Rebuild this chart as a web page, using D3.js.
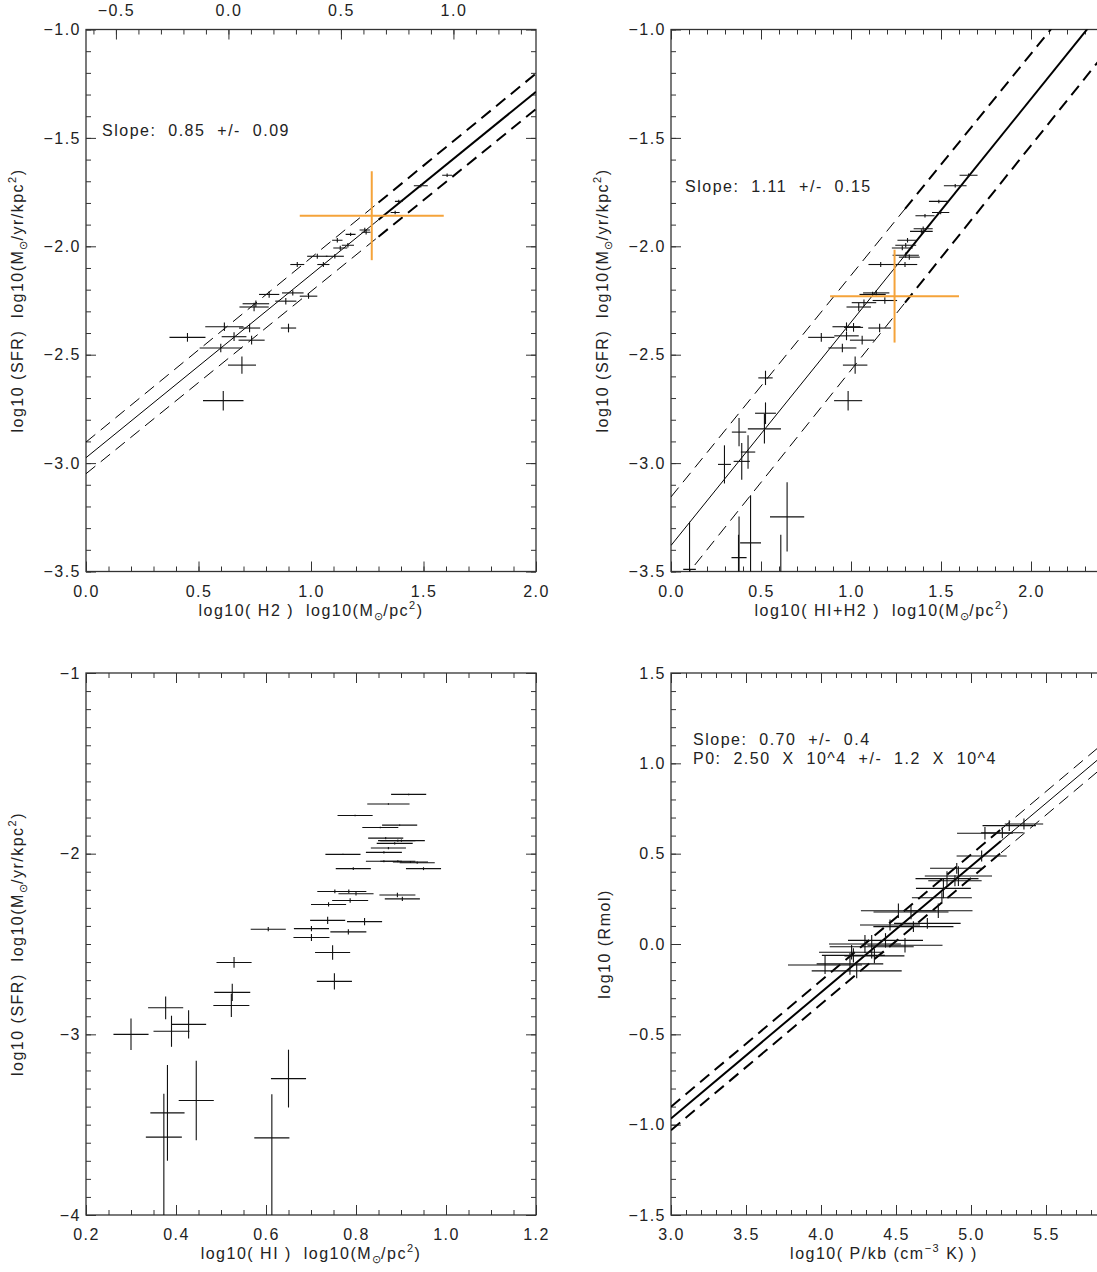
<!DOCTYPE html>
<html lang="en">
<head>
<meta charset="UTF-8">
<title>SFR vs gas</title>
<script src="https://cdn.jsdelivr.net/npm/d3@7"></script>
<style>
    body { margin: 0; background: #fff; }
    svg text { font-family: "Liberation Sans", Arial, sans-serif; font-size: 16px; letter-spacing: 1.5px; fill: #222; white-space: pre; }
    .tick text { font-size: 16px; }
</style>
</head>
<body>
<svg width="1097" height="1272"></svg>
<script>
    // ---- panel 1: log H2 vs log SFR
    var h2X  = [1.605,1.488,1.39,1.374,1.239,1.245,1.176,1.117,1.164,1.13,1.106,1.028,1.055,0.939,0.814,0.919,0.989,0.888,0.755,0.747,0.615,0.727,0.9,0.451,0.658,0.736,0.599,0.693,0.61];
    var h2Y  = [-1.672,-1.721,-1.793,-1.844,-1.925,-1.935,-1.945,-1.972,-1.995,-2.008,-2.046,-2.046,-2.084,-2.084,-2.222,-2.215,-2.23,-2.253,-2.265,-2.28,-2.371,-2.377,-2.377,-2.42,-2.417,-2.433,-2.469,-2.548,-2.712];
    var h2Ex = [0.022,0.031,0.017,0.02,0.023,0.02,0.022,0.023,0.027,0.031,0.04,0.045,0.027,0.031,0.045,0.048,0.039,0.047,0.059,0.065,0.085,0.047,0.034,0.08,0.055,0.058,0.094,0.062,0.09];
    var h2Ey = [0.008,0.008,0.008,0.008,0.01,0.01,0.008,0.01,0.01,0.01,0.01,0.012,0.012,0.012,0.015,0.012,0.012,0.015,0.015,0.02,0.02,0.02,0.02,0.02,0.02,0.02,0.02,0.04,0.045];
    var h2Ref = [1.27, -1.859, 0.32, 0.205];          // x, y, xerr, yerr (orange)
    var h2Fit = [0.844, -2.975], h2FitUp = [0.85, -2.903], h2FitDn = [0.841, -3.049];  // slope, intercept

    // ---- panel 2: log (HI+H2) vs log SFR
    var totX  = [1.653,1.579,1.488,1.498,1.411,1.401,1.391,1.314,1.304,1.285,1.304,1.324,1.165,1.3,1.14,1.12,1.072,1.188,1.043,0.975,1.014,1.159,0.835,0.975,1.062,0.952,1.023,0.984,0.525,0.525,0.519,0.378,0.428,0.393,0.297,0.645,0.442,0.378,0.103,0.61,0.375];
    var totY  = [-1.672,-1.721,-1.793,-1.844,-1.859,-1.919,-1.931,-1.972,-1.995,-2.008,-2.041,-2.05,-2.084,-2.084,-2.215,-2.222,-2.26,-2.25,-2.28,-2.371,-2.374,-2.377,-2.42,-2.413,-2.433,-2.469,-2.548,-2.712,-2.607,-2.77,-2.842,-2.857,-2.949,-2.992,-3.006,-3.248,-3.368,-3.436,-3.49,-3.57,-3.57];
    var totEx = [0.05,0.063,0.055,0.048,0.053,0.053,0.063,0.056,0.058,0.058,0.073,0.058,0.068,0.068,0.073,0.073,0.068,0.068,0.068,0.078,0.053,0.063,0.073,0.068,0.068,0.078,0.068,0.078,0.04,0.058,0.092,0.04,0.04,0.045,0.036,0.095,0.058,0.042,0.035,0.05,0.05];
    var totEyLo = [0.008,0.008,0.008,0.008,0.008,0.01,0.01,0.01,0.01,0.01,0.012,0.012,0.012,0.012,0.012,0.012,0.015,0.015,0.02,0.02,0.02,0.02,0.02,0.02,0.02,0.02,0.04,0.045,0.033,0.05,0.068,0.065,0.077,0.085,0.088,0.16,0.3,0.3,0.3,0.6,0.6];
    var totEyHi = [0.008,0.008,0.008,0.008,0.008,0.01,0.01,0.01,0.01,0.01,0.012,0.012,0.012,0.012,0.012,0.012,0.015,0.015,0.02,0.02,0.02,0.02,0.02,0.02,0.02,0.02,0.04,0.045,0.033,0.05,0.068,0.065,0.077,0.085,0.088,0.16,0.22,0.19,0.22,0.24,0.24];
    var totRef = [1.242, -2.23, 0.358, 0.214];
    var totFit = [1.03, -3.38], totFitUp = [1.022, -3.156], totFitDn = [1.036, -3.607];

    // ---- panel 3: log HI vs log SFR
    var hiX  = [0.917,0.872,0.798,0.897,0.854,0.866,0.893,0.901,0.886,0.872,0.862,0.771,0.862,0.893,0.921,0.936,0.794,0.95,0.753,0.784,0.8,0.892,0.903,0.787,0.739,0.737,0.819,0.605,0.701,0.783,0.701,0.748,0.529,0.752,0.525,0.523,0.377,0.428,0.39,0.3,0.65,0.445,0.381,0.373,0.613];
    var hiY  = [-1.672,-1.725,-1.789,-1.842,-1.855,-1.914,-1.928,-1.928,-1.943,-1.969,-1.993,-2.004,-2.042,-2.042,-2.046,-2.05,-2.083,-2.083,-2.209,-2.209,-2.222,-2.229,-2.25,-2.259,-2.281,-2.369,-2.376,-2.418,-2.415,-2.433,-2.464,-2.547,-2.602,-2.707,-2.768,-2.84,-2.853,-2.945,-2.983,-3.0,-3.245,-3.366,-3.435,-3.569,-3.573];
    var hiEx = [0.039,0.047,0.039,0.039,0.04,0.039,0.039,0.052,0.04,0.039,0.04,0.039,0.04,0.039,0.039,0.039,0.039,0.039,0.039,0.039,0.039,0.04,0.039,0.04,0.039,0.039,0.039,0.039,0.039,0.04,0.04,0.039,0.039,0.039,0.04,0.04,0.039,0.039,0.04,0.039,0.039,0.039,0.038,0.04,0.039];
    var hiEyLo = [0.004,0.004,0.004,0.004,0.004,0.006,0.006,0.006,0.006,0.006,0.006,0.004,0.006,0.006,0.006,0.006,0.008,0.008,0.01,0.01,0.01,0.012,0.012,0.012,0.012,0.02,0.02,0.012,0.015,0.015,0.02,0.04,0.03,0.045,0.048,0.064,0.063,0.078,0.086,0.087,0.16,0.22,0.265,0.6,0.6];
    var hiEyHi = [0.004,0.004,0.004,0.004,0.004,0.006,0.006,0.006,0.006,0.006,0.006,0.004,0.006,0.006,0.006,0.006,0.008,0.008,0.01,0.01,0.01,0.012,0.012,0.012,0.012,0.02,0.02,0.012,0.015,0.015,0.02,0.04,0.03,0.045,0.048,0.064,0.063,0.078,0.086,0.087,0.16,0.22,0.265,0.24,0.242];

    // ---- panel 4: log P/k vs log Rmol
    var pX  = [5.353,5.255,5.093,5.209,5.071,4.916,4.905,4.893,4.816,4.806,4.516,4.709,4.616,4.782,4.46,4.56,4.338,4.293,4.204,4.027,4.193,4.238,4.216,4.356,4.6,4.84,4.43];
    var pY  = [0.664,0.655,0.613,0.616,0.487,0.376,0.419,0.35,0.308,0.256,0.184,0.114,0.096,0.184,0.105,-0.007,-0.015,0.0,-0.046,-0.116,-0.11,-0.149,-0.063,-0.066,0.177,0.362,0.02];
    var pEx = [0.128,0.178,0.186,0.142,0.167,0.224,0.178,0.178,0.183,0.2,0.25,0.222,0.267,0.228,0.2,0.25,0.28,0.24,0.217,0.247,0.222,0.3,0.21,0.2,0.25,0.21,0.25];
    var pEy = [0.03,0.03,0.034,0.03,0.03,0.055,0.03,0.03,0.055,0.03,0.04,0.03,0.03,0.04,0.03,0.04,0.065,0.05,0.04,0.05,0.06,0.04,0.04,0.04,0.04,0.04,0.04];
    var pFit = [0.698, -3.06], pFitUp = [0.698, -2.995], pFitDn = [0.698, -3.125];

    var W = 450, H = 542;
    var colX = [86, 671], rowY = [29.5, 673];
    var svg = d3.select("svg");

    function steps(a, b, s) {
        return d3.range(Math.ceil(a / s - 1e-6), Math.floor(b / s + 1e-6) + 1).map(function (i) { return +(i * s).toFixed(4); });
    }
    function pts(xs, ys, ex, lo, hi) {
        return xs.map(function (v, i) { return {x: v, y: ys[i], xe: ex[i], lo: lo[i], hi: hi[i]}; });
    }
    var noLabel = function () { return ""; };

    // one side of the frame: minor + major ticks (IDL style, pointing inward)
    function side(g, axis, tr, majors, minors, fmt, pad) {
        var a = g.append("g").attr("transform", tr).attr("color", "#333")
            .call(axis.tickValues(minors).tickSize(-5).tickFormat(noLabel));
        a.select(".domain").remove();
        var b = g.append("g").attr("transform", tr).attr("color", "#333")
            .call(axis.tickValues(majors).tickSize(-10).tickPadding(pad).tickFormat(fmt || noLabel));
        b.select(".domain").remove();
        b.attr("font-size", null).attr("font-family", null);
    }

    function panel(c, r, xd, yd, o) {
        var g = svg.append("g").attr("transform", "translate(" + colX[c] + "," + rowY[r] + ")");
        var x = d3.scaleLinear().domain(xd).range([0, W]);
        var y = d3.scaleLinear().domain(yd).range([H, 0]);
        var id = "clip" + c + r;
        g.append("clipPath").attr("id", id).append("rect").attr("width", W).attr("height", H);

        var xMaj = steps(xd[0], xd[1], o.xStep), xMin = steps(xd[0], xd[1], o.xMinor);
        var yMaj = steps(yd[0], yd[1], o.yStep), yMin = steps(yd[0], yd[1], o.yMinor);
        var xf = d3.format(o.xFmt), lastLab = o.xLabelMax || xd[1];
        side(g, d3.axisBottom(x), "translate(0," + H + ")", xMaj, xMin,
            function (v) { return v > lastLab ? "" : xf(v); }, 14);
        side(g, d3.axisLeft(y), null, yMaj, yMin, d3.format(o.yFmt), 5);
        side(g, d3.axisRight(y), "translate(" + W + ",0)", yMaj, yMin, null, 0);
        if (o.top) {
            var t = d3.scaleLinear().domain(o.top).range([0, W]);
            side(g, d3.axisTop(t), null, steps(o.top[0], o.top[1], 0.5), steps(o.top[0], o.top[1], 0.1), d3.format(".1f"), 14);
        } else {
            side(g, d3.axisTop(x), null, xMaj, xMin, null, 0);
        }
        g.append("rect").attr("width", W).attr("height", H)
            .attr("fill", "none").attr("stroke", "#333").attr("stroke-width", 1.3);

        var plot = g.append("g").attr("clip-path", "url(#" + id + ")");

        // fit lines: thin outside o.thick, thicker inside it
        (o.fits || []).forEach(function (f, k) {
            var dash = k === 0 ? null : "12,7";
            var segs = [[xd[0], o.thick[0], 1], [o.thick[0], o.thick[1], 2], [o.thick[1], xd[1], 1]];
            segs.forEach(function (s) {
                if (s[1] <= s[0]) return;
                plot.append("line")
                    .attr("x1", x(s[0])).attr("y1", y(f[1] + f[0] * s[0]))
                    .attr("x2", x(s[1])).attr("y2", y(f[1] + f[0] * s[1]))
                    .attr("stroke", "#000").attr("stroke-width", s[2])
                    .attr("stroke-dasharray", dash);
            });
        });

        function bars(data, color, sw) {
            var e = plot.append("g").selectAll("g").data(data).enter().append("g")
                .attr("stroke", color).attr("stroke-width", sw);
            e.append("line")
                .attr("x1", function (d) { return x(d.x - d.xe); }).attr("x2", function (d) { return x(d.x + d.xe); })
                .attr("y1", function (d) { return y(d.y); }).attr("y2", function (d) { return y(d.y); });
            e.append("line")
                .attr("x1", function (d) { return x(d.x); }).attr("x2", function (d) { return x(d.x); })
                .attr("y1", function (d) { return y(d.y - d.lo); }).attr("y2", function (d) { return y(d.y + d.hi); });
        }
        bars(o.data, "#111", 1.1);
        if (o.ref) bars([{x: o.ref[0], y: o.ref[1], xe: o.ref[2], lo: o.ref[3], hi: o.ref[3]}], "#f5a33a", 2);

        // titles
        g.append("text").attr("x", o.xtx).attr("y", H + 44).attr("text-anchor", "middle").html(o.xTitle);
        g.append("text").attr("transform", "translate(" + o.ytx + "," + (H / 2) + ") rotate(-90)")
            .attr("text-anchor", "middle").html(o.yTitle);
        (o.notes || []).forEach(function (n, k) {
            g.append("text").attr("x", o.noteX).attr("y", o.noteY + k * 19).text(n);
        });
        return g;
    }

    var sun = '<tspan dy="4" font-size="11" letter-spacing="0">⊙</tspan><tspan dy="-4">';
    var sfrTitle = 'log10 (SFR)  log10(M' + sun + '/yr/kpc</tspan><tspan dy="-7" font-size="11">2</tspan><tspan dy="7">)</tspan>';
    var surf = 'log10(M' + sun + '/pc</tspan><tspan dy="-7" font-size="11">2</tspan><tspan dy="7">)</tspan>';

    panel(0, 0, [0, 2], [-3.5, -1], {
        xStep: 0.5, xMinor: 0.1, yStep: 0.5, yMinor: 0.1, xFmt: ".1f", yFmt: ".1f",
        top: [-0.633, 1.367],
        data: pts(h2X, h2Y, h2Ex, h2Ey, h2Ey), ref: h2Ref,
        fits: [h2Fit, h2FitUp, h2FitDn], thick: [1.3, 2],
        xTitle: 'log10( H2 )  ' + surf, xtx: W / 2, ytx: -63, yTitle: sfrTitle,
        notes: ["Slope:  0.85  +/-  0.09"], noteX: 16, noteY: 106
    });
    panel(1, 0, [0, 2.5], [-3.5, -1], {
        xStep: 0.5, xMinor: 0.1, yStep: 0.5, yMinor: 0.1, xFmt: ".1f", yFmt: ".1f", xLabelMax: 2.3,
        data: pts(totX, totY, totEx, totEyLo, totEyHi), ref: totRef,
        fits: [totFit, totFitUp, totFitDn], thick: [1.3, 2.5],
        xTitle: 'log10( HI+H2 )  ' + surf, xtx: 211, ytx: -63, yTitle: sfrTitle,
        notes: ["Slope:  1.11  +/-  0.15"], noteX: 14, noteY: 162
    });
    panel(0, 1, [0.2, 1.2], [-4, -1], {
        xStep: 0.2, xMinor: 0.05, yStep: 1, yMinor: 0.1, xFmt: ".1f", yFmt: "d",
        data: pts(hiX, hiY, hiEx, hiEyLo, hiEyHi),
        xTitle: 'log10( HI )  ' + surf, xtx: W / 2, ytx: -63, yTitle: sfrTitle
    });
    panel(1, 1, [3, 6], [-1.5, 1.5], {
        xStep: 0.5, xMinor: 0.1, yStep: 0.5, yMinor: 0.1, xFmt: ".1f", yFmt: ".1f", xLabelMax: 5.8,
        data: pts(pX, pY, pEx, pEy, pEy),
        fits: [pFit, pFitUp, pFitDn], thick: [3, 5.2],
        xTitle: 'log10( P/kb (cm<tspan dy="-7" font-size="11">−3</tspan><tspan dy="7"> K) )</tspan>', xtx: 213, ytx: -61,
        yTitle: 'log10 (Rmol)',
        notes: ["Slope:  0.70  +/-  0.4", "P0:  2.50  X  10^4  +/-  1.2  X  10^4"], noteX: 22, noteY: 72
    });
</script>
</body>
</html>
